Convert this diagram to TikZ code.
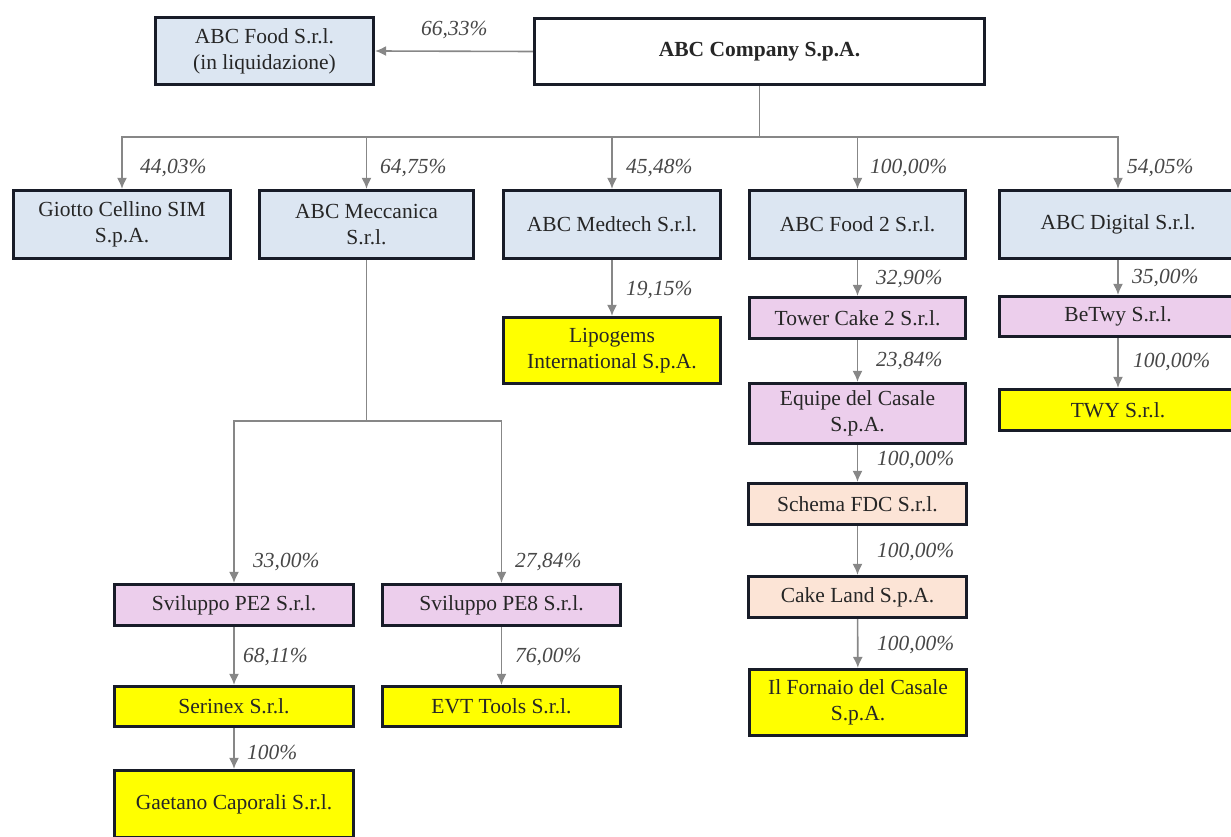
\documentclass[tikz,border=0pt]{standalone}
\usepackage{fontspec}
\setmainfont{Liberation Serif}
\usetikzlibrary{arrows.meta}

\definecolor{boxblue}{RGB}{220,230,242}
\definecolor{boxpink}{RGB}{236,206,236}
\definecolor{boxpeach}{RGB}{252,228,214}
\definecolor{boxyellow}{RGB}{255,255,0}
\definecolor{boxline}{RGB}{24,28,40}
\definecolor{linkgray}{RGB}{135,135,135}

\tikzset{
  box/.style={draw=boxline,line width=3.2pt,align=center,inner sep=2pt,
    text=black!85,font=\fontsize{21.5}{26}\selectfont},
  whitebox/.style={box,fill=white},
  bluebox/.style={box,fill=boxblue},
  pinkbox/.style={box,fill=boxpink},
  peachbox/.style={box,fill=boxpeach},
  yellowbox/.style={box,fill=boxyellow},
  pct/.style={anchor=west,inner sep=0pt,text=black!72,
    font=\fontsize{21.5}{26}\selectfont\itshape},
  link/.style={->,draw=linkgray,line width=1.6pt},
}

\begin{document}
\begin{tikzpicture}[x=1pt,y=-1pt,>={Latex[length=11pt,width=10pt]}]
\useasboundingbox (0,0) rectangle (1231,837);

% top
\node[whitebox,minimum width=450pt,minimum height=66pt] (company) at (759.5,51.5) {\textbf{ABC Company S.p.A.}};
\node[bluebox,minimum width=218pt,minimum height=67pt] (food) at (264.5,51) {ABC Food S.r.l.\\(in liquidazione)};

% first level
\node[bluebox,minimum width=217pt,minimum height=68pt] (giotto) at (122,224.5) {Giotto Cellino SIM\\S.p.A.};
\node[bluebox,minimum width=214pt,minimum height=68pt] (mecc) at (366.5,224.5) {ABC Meccanica\\S.r.l.};
\node[bluebox,minimum width=217pt,minimum height=68pt] (medtech) at (612,224.5) {ABC Medtech S.r.l.};
\node[bluebox,minimum width=216pt,minimum height=68pt] (foodtwo) at (857.5,224.5) {ABC Food 2 S.r.l.};
\node[bluebox,minimum width=237pt,minimum height=68pt] (digital) at (1118,224.5) {ABC Digital S.r.l.};

% medtech
\node[yellowbox,minimum width=217pt,minimum height=66pt] (lipo) at (612,350.5) {Lipogems\\International S.p.A.};

% food 2
\node[pinkbox,minimum width=216pt,minimum height=41pt] (tower) at (857.5,318) {Tower Cake 2 S.r.l.};
\node[pinkbox,minimum width=216pt,minimum height=60pt] (equipe) at (857.5,413.5) {Equipe del Casale\\S.p.A.};
\node[peachbox,minimum width=218pt,minimum height=41pt] (schema) at (857.5,504) {Schema FDC S.r.l.};
\node[peachbox,minimum width=218pt,minimum height=41pt] (cake) at (857.5,597) {Cake Land S.p.A.};
\node[yellowbox,minimum width=217pt,minimum height=66pt] (fornaio) at (858,702.5) {Il Fornaio del Casale\\S.p.A.};

% digital
\node[pinkbox,minimum width=237pt,minimum height=40pt] (betwy) at (1118,316.5) {BeTwy S.r.l.};
\node[yellowbox,minimum width=237pt,minimum height=41pt] (twy) at (1118,410) {TWY S.r.l.};

% meccanica
\node[pinkbox,minimum width=239pt,minimum height=41pt] (petwo) at (234,605) {Sviluppo PE2 S.r.l.};
\node[pinkbox,minimum width=238pt,minimum height=41pt] (peeight) at (501.5,605) {Sviluppo PE8 S.r.l.};
\node[yellowbox,minimum width=239pt,minimum height=40pt] (serinex) at (234,706.5) {Serinex S.r.l.};
\node[yellowbox,minimum width=238pt,minimum height=40pt] (evt) at (501.5,706.5) {EVT Tools S.r.l.};
\node[yellowbox,minimum width=239pt,minimum height=67pt] (gaetano) at (234,804) {Gaetano Caporali S.r.l.};

\coordinate (bus) at (759.5,137);
\coordinate (split) at (366.5,421);

\draw[link] (company.west) -- (food.east);
\draw[link] (company.south) -- (bus) -| (giotto.north);
\draw[link] (company.south) -- (bus) -| (mecc.north);
\draw[link] (company.south) -- (bus) -| (medtech.north);
\draw[link] (company.south) -- (bus) -| (foodtwo.north);
\draw[link] (company.south) -- (bus) -| (digital.north);

\draw[link] (medtech) -- (lipo);
\draw[link] (foodtwo) -- (tower);
\draw[link] (tower) -- (equipe);
\draw[link] (equipe) -- (schema);
\draw[link] (schema) -- (cake);
\draw[link] (cake) -- (fornaio);
\draw[link] (digital) -- (betwy);
\draw[link] (betwy) -- (twy);

\draw[link] (mecc.south) -- (split) -| (petwo.north);
\draw[link] (mecc.south) -- (split) -| (peeight.north);
\draw[link] (petwo) -- (serinex);
\draw[link] (peeight) -- (evt);
\draw[link] (serinex) -- (gaetano);

% percentages
\node[pct] (pfood) at (421,30) {66,33\%};
\node[pct] (pgiotto) at (140,168) {44,03\%};
\node[pct] (pmecc) at (380,168) {64,75\%};
\node[pct] (pmedtech) at (626,168) {45,48\%};
\node[pct] (pfoodtwo) at (870,168) {100,00\%};
\node[pct] (pdigital) at (1127,168) {54,05\%};
\node[pct] (plipo) at (626,290) {19,15\%};
\node[pct] (ptower) at (876,279) {32,90\%};
\node[pct] (pequipe) at (876,361) {23,84\%};
\node[pct] (pschema) at (877,460) {100,00\%};
\node[pct] (pcake) at (877,552) {100,00\%};
\node[pct] (pfornaio) at (877,645) {100,00\%};
\node[pct] (pbetwy) at (1132,278) {35,00\%};
\node[pct] (ptwy) at (1133,362) {100,00\%};
\node[pct] (ppetwo) at (253,562) {33,00\%};
\node[pct] (ppeeight) at (515,562) {27,84\%};
\node[pct] (pserinex) at (243,657) {68,11\%};
\node[pct] (pevt) at (515,657) {76,00\%};
\node[pct] (pgaetano) at (247,752) {100\%};

\end{tikzpicture}
\end{document}
